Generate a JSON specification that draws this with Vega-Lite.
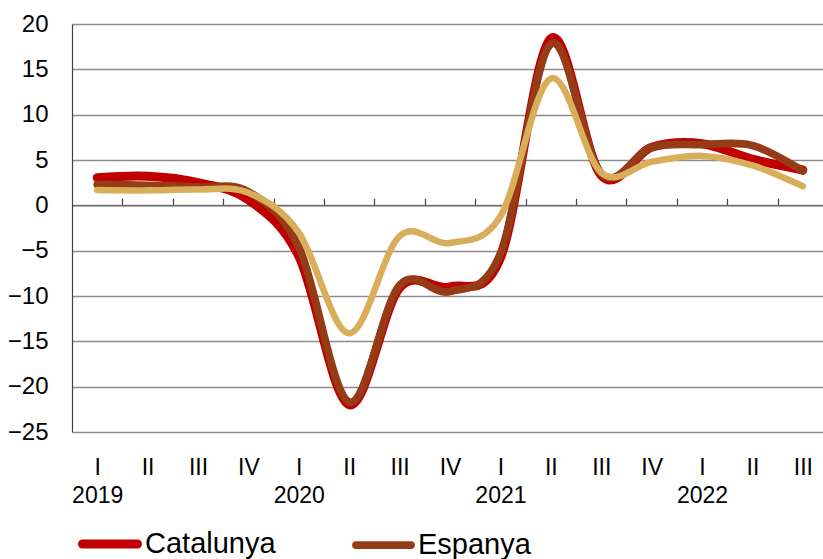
{
  "$schema": "https://vega.github.io/schema/vega-lite/v6.json",
  "autosize": "none",
  "padding": {"left": 72, "top": 24, "right": 0, "bottom": 127},
  "width": 751,
  "height": 408,
  "background": "white",
  "config": {"view": {"stroke": null}, "font": "Liberation Sans"},
  "data": {"values": [
    {"trimestre": "2019 I", "idx": 0, "serie": "Catalunya", "valor": 3.05},
    {"trimestre": "2019 II", "idx": 1, "serie": "Catalunya", "valor": 3.2},
    {"trimestre": "2019 III", "idx": 2, "serie": "Catalunya", "valor": 2.5},
    {"trimestre": "2019 IV", "idx": 3, "serie": "Catalunya", "valor": 0.6},
    {"trimestre": "2020 I", "idx": 4, "serie": "Catalunya", "valor": -5.6},
    {"trimestre": "2020 II", "idx": 5, "serie": "Catalunya", "valor": -22.0},
    {"trimestre": "2020 III", "idx": 6, "serie": "Catalunya", "valor": -9.1},
    {"trimestre": "2020 IV", "idx": 7, "serie": "Catalunya", "valor": -9.0},
    {"trimestre": "2021 I", "idx": 8, "serie": "Catalunya", "valor": -5.8},
    {"trimestre": "2021 II", "idx": 9, "serie": "Catalunya", "valor": 18.4},
    {"trimestre": "2021 III", "idx": 10, "serie": "Catalunya", "valor": 3.3},
    {"trimestre": "2021 IV", "idx": 11, "serie": "Catalunya", "valor": 6.4},
    {"trimestre": "2022 I", "idx": 12, "serie": "Catalunya", "valor": 6.8},
    {"trimestre": "2022 II", "idx": 13, "serie": "Catalunya", "valor": 5.1},
    {"trimestre": "2022 III", "idx": 14, "serie": "Catalunya", "valor": 3.9},
    {"trimestre": "2019 I", "idx": 0, "serie": "Espanya", "valor": 2.3},
    {"trimestre": "2019 II", "idx": 1, "serie": "Espanya", "valor": 2.2},
    {"trimestre": "2019 III", "idx": 2, "serie": "Espanya", "valor": 2.0},
    {"trimestre": "2019 IV", "idx": 3, "serie": "Espanya", "valor": 1.5},
    {"trimestre": "2020 I", "idx": 4, "serie": "Espanya", "valor": -4.6},
    {"trimestre": "2020 II", "idx": 5, "serie": "Espanya", "valor": -21.7},
    {"trimestre": "2020 III", "idx": 6, "serie": "Espanya", "valor": -8.8},
    {"trimestre": "2020 IV", "idx": 7, "serie": "Espanya", "valor": -9.5},
    {"trimestre": "2021 I", "idx": 8, "serie": "Espanya", "valor": -5.3},
    {"trimestre": "2021 II", "idx": 9, "serie": "Espanya", "valor": 17.8},
    {"trimestre": "2021 III", "idx": 10, "serie": "Espanya", "valor": 3.5},
    {"trimestre": "2021 IV", "idx": 11, "serie": "Espanya", "valor": 6.4},
    {"trimestre": "2022 I", "idx": 12, "serie": "Espanya", "valor": 6.7},
    {"trimestre": "2022 II", "idx": 13, "serie": "Espanya", "valor": 6.6},
    {"trimestre": "2022 III", "idx": 14, "serie": "Espanya", "valor": 3.8},
    {"trimestre": "2019 I", "idx": 0, "serie": "Zona euro", "valor": 1.7},
    {"trimestre": "2019 II", "idx": 1, "serie": "Zona euro", "valor": 1.65},
    {"trimestre": "2019 III", "idx": 2, "serie": "Zona euro", "valor": 1.75},
    {"trimestre": "2019 IV", "idx": 3, "serie": "Zona euro", "valor": 1.4},
    {"trimestre": "2020 I", "idx": 4, "serie": "Zona euro", "valor": -3.0},
    {"trimestre": "2020 II", "idx": 5, "serie": "Zona euro", "valor": -14.1},
    {"trimestre": "2020 III", "idx": 6, "serie": "Zona euro", "valor": -3.4},
    {"trimestre": "2020 IV", "idx": 7, "serie": "Zona euro", "valor": -4.15},
    {"trimestre": "2021 I", "idx": 8, "serie": "Zona euro", "valor": -1.2},
    {"trimestre": "2021 II", "idx": 9, "serie": "Zona euro", "valor": 14.0},
    {"trimestre": "2021 III", "idx": 10, "serie": "Zona euro", "valor": 3.6},
    {"trimestre": "2021 IV", "idx": 11, "serie": "Zona euro", "valor": 4.8},
    {"trimestre": "2022 I", "idx": 12, "serie": "Zona euro", "valor": 5.45},
    {"trimestre": "2022 II", "idx": 13, "serie": "Zona euro", "valor": 4.4},
    {"trimestre": "2022 III", "idx": 14, "serie": "Zona euro", "valor": 2.1}
  ]},
  "encoding": {
    "y": {
      "field": "valor", "type": "quantitative",
      "scale": {"domain": [-25, 20], "nice": false, "zero": false},
      "axis": {
        "values": [-25, -20, -15, -10, -5, 0, 5, 10, 15, 20],
        "title": null, "ticks": false, "labelPadding": 24,
        "labelFontSize": 24, "labelColor": "#000000", "labelFont": "Liberation Sans",
        "domain": true, "domainColor": "#404040", "domainWidth": 1.2,
        "grid": true, "gridColor": "#8c8c8c", "gridWidth": 1.5
      }
    },
    "color": {
      "field": "serie", "type": "nominal",
      "scale": {"domain": ["Catalunya", "Espanya", "Zona euro"], "range": ["#C00000", "#953B15", "#D8AE5B"]},
      "legend": {
        "orient": "none", "legendX": 6, "legendY": 488, "direction": "horizontal",
        "title": null, "values": ["Catalunya", "Espanya"],
        "symbolType": "stroke", "symbolSize": 3025, "symbolStrokeWidth": 8,
        "labelFontSize": 29, "labelFont": "Liberation Sans", "labelColor": "#000000",
        "labelOffset": 3, "columnPadding": 64,
        "encode": {"symbols": {"update": {"strokeCap": {"value": "round"}}}}
      }
    },
    "strokeWidth": {
      "field": "serie", "type": "nominal",
      "scale": {"domain": ["Catalunya", "Espanya", "Zona euro"], "range": [9, 6.5, 6]},
      "legend": null
    }
  },
  "layer": [
    {
      "transform": [{"filter": {"field": "serie", "equal": "Catalunya"}}],
      "mark": {"type": "line", "interpolate": "cardinal", "strokeCap": "round", "strokeJoin": "round"},
      "encoding": {
        "x": {
          "field": "idx", "type": "quantitative",
          "scale": {"domain": [-0.5, 14.4], "nice": false, "zero": false},
          "axis": {
            "orient": "bottom", "values": [0, 1, 2, 3, 4, 5, 6, 7, 8, 9, 10, 11, 12, 13, 14],
            "labelExpr": "[['I','2019'],'II','III','IV',['I','2020'],'II','III','IV',['I','2021'],'II','III','IV',['I','2022'],'II','III'][datum.value]",
            "title": null, "domain": false, "ticks": false, "grid": false,
            "labelFontSize": 23, "labelLineHeight": 28, "labelPadding": 24,
            "labelOverlap": false, "labelFlush": false, "labelBound": false,
            "labelColor": "#000000", "labelFont": "Liberation Sans"
          }
        }
      }
    },
    {
      "transform": [{"filter": {"field": "serie", "equal": "Espanya"}}],
      "mark": {"type": "line", "interpolate": "cardinal", "strokeCap": "round", "strokeJoin": "round"},
      "encoding": {
        "x": {"field": "idx", "type": "quantitative", "scale": {"domain": [-0.5, 14.4], "nice": false, "zero": false}, "axis": null}
      }
    },
    {
      "transform": [{"filter": {"field": "serie", "equal": "Zona euro"}}],
      "mark": {"type": "line", "interpolate": "cardinal", "strokeCap": "round", "strokeJoin": "round"},
      "encoding": {
        "x": {
          "field": "idx", "type": "quantitative",
          "scale": {"domain": [-0.5, 14.4], "nice": false, "zero": false},
          "axis": {
            "orient": "top", "offset": -181.33,
            "values": [0.5, 1.5, 2.5, 3.5, 4.5, 5.5, 6.5, 7.5, 8.5, 9.5, 10.5, 11.5, 12.5, 13.5],
            "labels": false, "ticks": true, "tickSize": 7, "tickColor": "#404040", "tickWidth": 1.2,
            "domain": true, "domainColor": "#707070", "domainWidth": 1.5,
            "grid": false, "title": null
          }
        }
      }
    }
  ],
  "resolve": {"axis": {"x": "independent"}}
}
